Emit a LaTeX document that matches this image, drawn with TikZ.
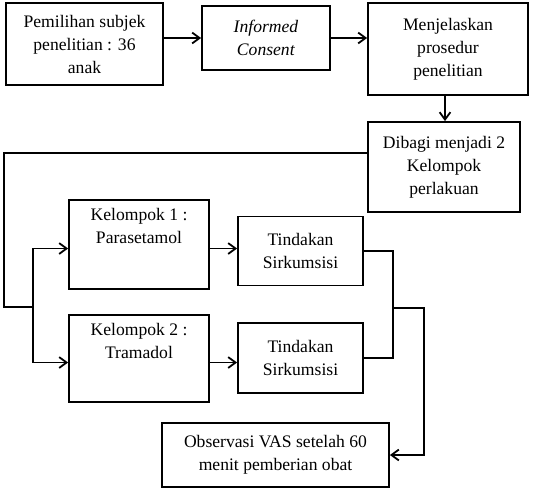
\documentclass[tikz,border=0pt]{standalone}
\usepackage{fontspec}
\setmainfont{Liberation Serif}
\usetikzlibrary{positioning,arrows.meta,calc}
\tikzset{
  >={Straight Barb[length=2.6mm,width=3.8mm,line width=1.8pt]},
  procbox/.style={draw,line width=1.8pt,align=center,inner sep=2pt,
    font=\fontsize{17.6}{23}\selectfont},
  topbox/.style={procbox,anchor=north,inner ysep=8pt},
  flow/.style={->,line width=1.8pt},
  link/.style={line width=1.8pt},
}
\begin{document}
\begin{tikzpicture}[x=1pt,y=-1pt]
  \useasboundingbox (0,0) rectangle (534,490);
  % top row
  \node[procbox,minimum width=157pt,minimum height=82pt] (pilih) at (84.5,44)
    {Pemilihan subjek\\penelitian : 36\\anak};
  \node[procbox,minimum width=128pt,minimum height=64pt] (ic) at (266,38)
    {\textit{Informed}\\\textit{Consent}};
  \node[procbox,minimum width=160pt,minimum height=92pt] (jelas) at (448,49)
    {Menjelaskan\\prosedur\\penelitian};
  \node[procbox,minimum width=152pt,minimum height=90pt] (bagi) at (444,167)
    {Dibagi menjadi 2\\Kelompok\\perlakuan};
  % groups
  \node[topbox,minimum width=140pt,text depth=38pt] (k1) at (139,199)
    {Kelompok 1 :\\Parasetamol};
  \node[topbox,minimum width=140pt,text depth=36pt] (k2) at (139,314)
    {Kelompok 2 :\\Tramadol};
  \node[procbox,minimum width=125pt,minimum height=69pt] (t1) at (300.5,251)
    {Tindakan\\Sirkumsisi};
  \node[procbox,minimum width=125pt,minimum height=70pt] (t2) at (300.5,358)
    {Tindakan\\Sirkumsisi};
  \node[procbox,minimum width=227pt,minimum height=64pt] (obs) at (275.5,455)
    {Observasi VAS setelah 60\\menit pemberian obat};
  % bends
  \coordinate (dl) at (4,307);
  \coordinate (sp) at (33,307);
  \coordinate (mr) at (393,308);
  \coordinate (rr) at (424,308);
  \draw[flow] (pilih.east |- ic.west) -- (ic.west);
  \draw[flow] (ic.east) -- (ic.east -| jelas.west);
  \draw[flow] (jelas.south -| 445,0) -- (bagi.north -| 445,0);
  \draw[link] ([yshift=14pt]bagi.west) -| (dl) -- (sp);
  \draw[flow] (sp) |- ([yshift=-4pt]k1.west);
  \draw[flow] (sp) |- ([yshift=-4pt]k2.west);
  \draw[flow] ([yshift=-4pt]k1.east) -- ([yshift=-4pt]k1.east -| t1.west);
  \draw[flow] ([yshift=-4pt]k2.east) -- ([yshift=-4pt]k2.east -| t2.west);
  \draw[link] (t1.east) -| (mr) |- (t2.east);
  \draw[flow] (mr) -- (rr) |- (obs.east);
\end{tikzpicture}
\end{document}
